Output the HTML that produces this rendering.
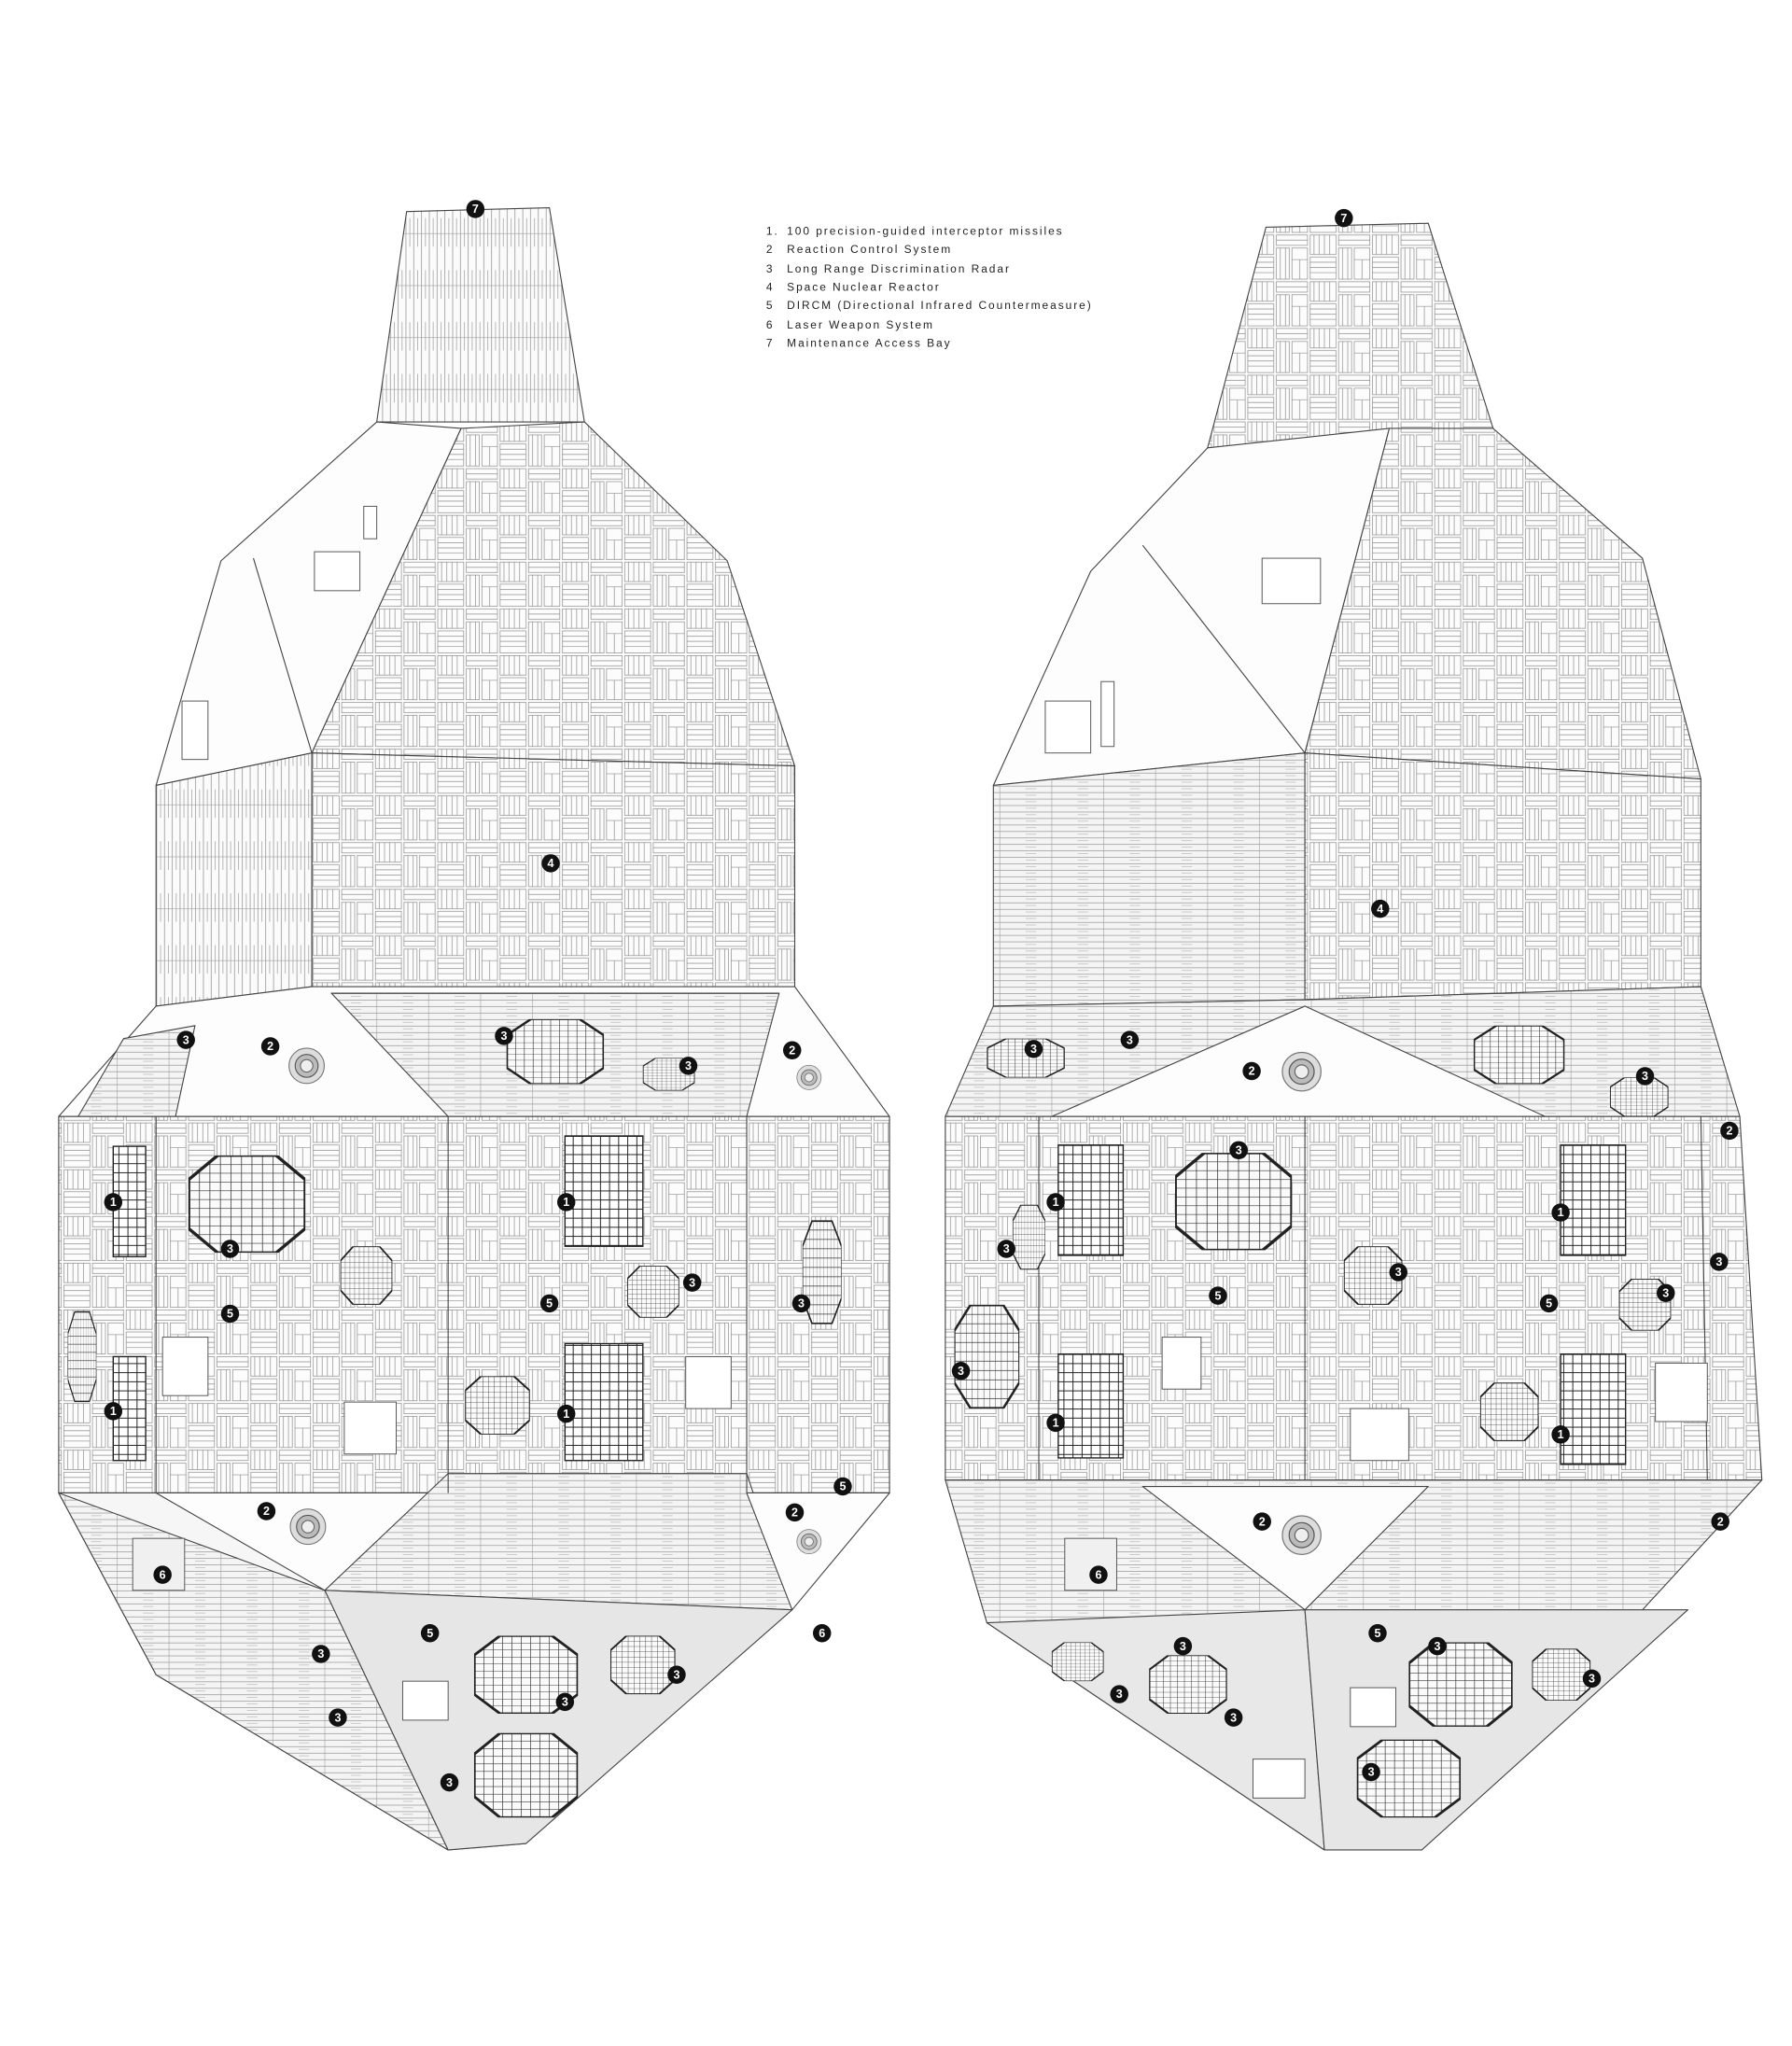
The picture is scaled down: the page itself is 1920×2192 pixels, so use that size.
<!DOCTYPE html>
<html><head><meta charset="utf-8"><style>
html,body{margin:0;padding:0;background:#fff;}
svg{display:block;}
.lg{font-family:"Liberation Sans",Arial,sans-serif;font-size:8.6px;letter-spacing:1.4px;fill:#222;}
.m{font-family:"Liberation Sans",Arial,sans-serif;font-size:9px;font-weight:bold;fill:#fff;text-anchor:middle;}
</style></head><body>
<svg width="1920" height="2192" viewBox="0 0 1380 1576" xmlns="http://www.w3.org/2000/svg">
<defs>
<pattern id="v" width="6" height="40" patternUnits="userSpaceOnUse">
<rect width="6" height="40" fill="#fbfbfb"/><line x1="0.5" y1="0" x2="0.5" y2="40" stroke="#8a8a8a" stroke-width="0.5"/><line x1="3.5" y1="8" x2="3.5" y2="30" stroke="#9a9a9a" stroke-width="0.5"/><line x1="0" y1="20" x2="6" y2="20" stroke="#999" stroke-width="0.4"/>
</pattern>
<pattern id="h" width="40" height="5" patternUnits="userSpaceOnUse">
<rect width="40" height="5" fill="#f4f4f4"/><line x1="0" y1="0.5" x2="40" y2="0.5" stroke="#888" stroke-width="0.5"/><line x1="10" y1="0" x2="10" y2="5" stroke="#999" stroke-width="0.4"/><line x1="30" y1="2.5" x2="38" y2="2.5" stroke="#aaa" stroke-width="0.4"/>
</pattern>
<pattern id="p" width="48" height="36" patternUnits="userSpaceOnUse">
<rect width="48" height="36" fill="#fcfcfc"/>
<g stroke="#8c8c8c" stroke-width="0.5" fill="none">
<rect x="1" y="1" width="20" height="15"/><line x1="4" y1="1" x2="4" y2="16"/><line x1="8" y1="1" x2="8" y2="16"/><line x1="12" y1="1" x2="12" y2="16"/><line x1="16" y1="1" x2="16" y2="16"/>
<rect x="23" y="1" width="24" height="8"/><line x1="23" y1="5" x2="47" y2="5"/>
<rect x="23" y="11" width="10" height="24"/><line x1="26" y1="11" x2="26" y2="35"/><line x1="30" y1="11" x2="30" y2="35"/>
<rect x="1" y="18" width="20" height="17"/><line x1="1" y1="22" x2="21" y2="22"/><line x1="1" y1="26" x2="21" y2="26"/><line x1="1" y1="30" x2="21" y2="30"/>
<rect x="35" y="11" width="12" height="24"/><line x1="35" y1="20" x2="47" y2="20"/><line x1="41" y1="20" x2="41" y2="35"/>
</g></pattern>
<pattern id="g" width="7" height="7" patternUnits="userSpaceOnUse">
<rect width="7" height="7" fill="#fff"/><path d="M0 0H7M0 0V7" stroke="#222" stroke-width="1.4"/>
</pattern>
<pattern id="g2" width="9" height="9" patternUnits="userSpaceOnUse">
<rect width="9" height="9" fill="#fafafa"/><path d="M0 0H9M0 0V9" stroke="#333" stroke-width="1.2"/>
</pattern>
<symbol id="oct" viewBox="0 0 100 100" preserveAspectRatio="none">
<polygon points="25,0 75,0 100,25 100,75 75,100 25,100 0,75 0,25" fill="url(#g2)" stroke="#222" stroke-width="3"/>
</symbol>
<symbol id="rc" viewBox="0 0 40 40"><circle cx="20" cy="20" r="17" fill="#ddd" stroke="#777"/><circle cx="20" cy="20" r="11" fill="#bbb" stroke="#555"/><circle cx="20" cy="20" r="6" fill="#eee" stroke="#666"/></symbol>
</defs>

<g class="lg">
<text x="590" y="181">1.</text><text x="606" y="181">100 precision-guided interceptor missiles</text>
<text x="590" y="195">2</text><text x="606" y="195">Reaction Control System</text>
<text x="590" y="210">3</text><text x="606" y="210">Long Range Discrimination Radar</text>
<text x="590" y="224">4</text><text x="606" y="224">Space Nuclear Reactor</text>
<text x="590" y="238">5</text><text x="606" y="238">DIRCM (Directional Infrared Countermeasure)</text>
<text x="590" y="253">6</text><text x="606" y="253">Laser Weapon System</text>
<text x="590" y="267">7</text><text x="606" y="267">Maintenance Access Bay</text>
</g>

<!-- LEFT SHIP -->
<g stroke="#444" stroke-width="0.8" stroke-linejoin="round">
<polygon points="313,163 423,160 450,325 290,325" fill="url(#v)"/>
<polygon points="290,325 355,330 240,580 120,605 170,432" fill="#fdfdfd"/>
<line x1="195" y1="430" x2="240" y2="580"/>
<polygon points="355,330 450,325 560,432 612,590 240,580" fill="url(#p)"/>
<polygon points="120,605 240,580 240,760 120,775" fill="url(#v)"/>
<polygon points="240,580 612,590 612,760 240,760" fill="url(#p)"/>
<polygon points="120,775 240,760 612,760 685,860 45,860" fill="#fdfdfd"/>
<polygon points="255,765 600,765 575,860 345,860" fill="url(#h)"/>
<polygon points="95,800 150,790 135,860 60,860" fill="url(#h)"/>
<polygon points="45,860 685,860 685,1150 45,1150" fill="url(#p)"/>
<polygon points="45,1150 685,1150 405,1420 345,1425 120,1290" fill="#f6f6f6"/>
<polygon points="45,1150 250,1225 345,1425 120,1290" fill="url(#h)"/>
<polygon points="120,1150 345,1150 250,1225" fill="#fdfdfd"/>
<polygon points="345,1135 575,1135 610,1240 250,1225" fill="url(#h)"/>
<polygon points="575,1150 685,1150 610,1240" fill="#fdfdfd"/>
<polygon points="250,1225 610,1240 405,1420 345,1425" fill="#e6e6e6"/>
</g>
<g stroke="#444" stroke-width="0.8">
<line x1="120" y1="860" x2="120" y2="1150"/><line x1="345" y1="860" x2="345" y2="1150"/><line x1="575" y1="860" x2="575" y2="1150"/>
<line x1="240" y1="580" x2="240" y2="760"/>
</g>
<g fill="#fff" stroke="#555" stroke-width="0.7">
<rect x="242" y="425" width="35" height="30"/><rect x="140" y="540" width="20" height="45"/><rect x="280" y="390" width="10" height="25"/>
<rect x="125" y="1030" width="35" height="45"/><rect x="265" y="1080" width="40" height="40"/><rect x="528" y="1045" width="35" height="40"/>
<rect x="310" y="1295" width="35" height="30"/><rect x="102" y="1185" width="40" height="40" fill="#f0f0f0"/>
</g>
<rect x="87" y="883" width="25" height="85" fill="url(#g)" stroke="#222"/>
<rect x="435" y="875" width="60" height="85" fill="url(#g)" stroke="#222"/>
<rect x="435" y="1035" width="60" height="90" fill="url(#g)" stroke="#222"/>
<rect x="87" y="1045" width="25" height="80" fill="url(#g)" stroke="#222"/>
<use href="#oct" x="145" y="890" width="90" height="75"/>
<use href="#oct" x="262" y="960" width="40" height="45"/>
<use href="#oct" x="483" y="975" width="40" height="40"/>
<use href="#oct" x="358" y="1060" width="50" height="45"/>
<use href="#oct" x="390" y="785" width="75" height="50"/>
<use href="#oct" x="495" y="815" width="40" height="25"/>
<use href="#oct" x="365" y="1260" width="80" height="60"/>
<use href="#oct" x="470" y="1260" width="50" height="45"/>
<use href="#oct" x="365" y="1335" width="80" height="65"/>
<use href="#oct" x="618" y="940" width="30" height="80"/>
<use href="#oct" x="52" y="1010" width="22" height="70"/>
<use href="#rc" x="220" y="805" width="32" height="32"/>
<use href="#rc" x="221" y="1160" width="32" height="32"/>
<use href="#rc" x="612" y="815" width="22" height="30"/>
<use href="#rc" x="612" y="1170" width="22" height="35"/>

<!-- RIGHT SHIP -->
<g stroke="#444" stroke-width="0.8" stroke-linejoin="round">
<polygon points="975,175 1100,172 1150,330 930,345" fill="url(#p)"/>
<polygon points="930,345 1070,330 1005,580 765,605 840,440" fill="#fdfdfd"/>
<line x1="880" y1="420" x2="1005" y2="580"/>
<polygon points="1070,330 1150,330 1265,430 1310,600 1005,580" fill="url(#p)"/>
<polygon points="765,605 1005,580 1005,770 765,775" fill="url(#h)"/>
<polygon points="1005,580 1310,600 1310,760 1005,770" fill="url(#p)"/>
<polygon points="765,775 1005,770 1310,760 1340,860 728,860" fill="url(#h)"/>
<polygon points="1005,775 810,860 1190,860" fill="#fdfdfd"/>
<polygon points="728,860 1340,860 1357,1140 728,1140" fill="url(#p)"/>
<polygon points="728,1140 1357,1140 1095,1425 1020,1425 760,1250" fill="url(#h)"/>
<polygon points="880,1145 1100,1145 1005,1240" fill="#fdfdfd"/>
<polygon points="760,1250 1005,1240 1020,1425" fill="#e8e8e8"/>
<polygon points="1005,1240 1300,1240 1095,1425 1020,1425" fill="#e6e6e6"/>
</g>
<g stroke="#444" stroke-width="0.8">
<line x1="800" y1="860" x2="800" y2="1140"/><line x1="1005" y1="860" x2="1005" y2="1140"/><line x1="1310" y1="860" x2="1315" y2="1140"/>
</g>
<g fill="#fff" stroke="#555" stroke-width="0.7">
<rect x="972" y="430" width="45" height="35"/><rect x="805" y="540" width="35" height="40"/><rect x="848" y="525" width="10" height="50"/>
<rect x="895" y="1030" width="30" height="40"/><rect x="1040" y="1085" width="45" height="40"/><rect x="1275" y="1050" width="40" height="45"/>
<rect x="1040" y="1300" width="35" height="30"/><rect x="820" y="1185" width="40" height="40" fill="#f0f0f0"/><rect x="965" y="1355" width="40" height="30"/>
</g>
<rect x="815" y="882" width="50" height="85" fill="url(#g)" stroke="#222"/>
<rect x="1202" y="882" width="50" height="85" fill="url(#g)" stroke="#222"/>
<rect x="815" y="1043" width="50" height="80" fill="url(#g)" stroke="#222"/>
<rect x="1202" y="1043" width="50" height="85" fill="url(#g)" stroke="#222"/>
<use href="#oct" x="905" y="888" width="90" height="75"/>
<use href="#oct" x="1035" y="960" width="45" height="45"/>
<use href="#oct" x="1247" y="985" width="40" height="40"/>
<use href="#oct" x="1140" y="1065" width="45" height="45"/>
<use href="#oct" x="735" y="1005" width="50" height="80"/>
<use href="#oct" x="780" y="928" width="25" height="50"/>
<use href="#oct" x="1135" y="790" width="70" height="45"/>
<use href="#oct" x="1240" y="830" width="45" height="30"/>
<use href="#oct" x="760" y="800" width="60" height="30"/>
<use href="#oct" x="1085" y="1265" width="80" height="65"/>
<use href="#oct" x="1045" y="1340" width="80" height="60"/>
<use href="#oct" x="1180" y="1270" width="45" height="40"/>
<use href="#oct" x="885" y="1275" width="60" height="45"/>
<use href="#oct" x="810" y="1265" width="40" height="30"/>
<use href="#rc" x="985" y="808" width="35" height="35"/>
<use href="#rc" x="985" y="1165" width="35" height="35"/>

<g fill="#111">
<circle cx="366" cy="161" r="7"/><circle cx="424" cy="665" r="7"/><circle cx="143" cy="801" r="7"/><circle cx="208" cy="806" r="7"/><circle cx="388" cy="798" r="7"/><circle cx="530" cy="821" r="7"/><circle cx="610" cy="809" r="7"/><circle cx="87" cy="926" r="7"/><circle cx="436" cy="926" r="7"/><circle cx="177" cy="962" r="7"/><circle cx="177" cy="1012" r="7"/><circle cx="423" cy="1004" r="7"/><circle cx="533" cy="988" r="7"/><circle cx="617" cy="1004" r="7"/><circle cx="87" cy="1087" r="7"/><circle cx="436" cy="1089" r="7"/><circle cx="649" cy="1145" r="7"/><circle cx="205" cy="1164" r="7"/><circle cx="612" cy="1165" r="7"/><circle cx="125" cy="1213" r="7"/><circle cx="633" cy="1258" r="7"/><circle cx="331" cy="1258" r="7"/><circle cx="247" cy="1274" r="7"/><circle cx="435" cy="1311" r="7"/><circle cx="521" cy="1290" r="7"/><circle cx="260" cy="1323" r="7"/><circle cx="346" cy="1373" r="7"/>
<circle cx="1035" cy="168" r="7"/><circle cx="1063" cy="700" r="7"/><circle cx="796" cy="808" r="7"/><circle cx="870" cy="801" r="7"/><circle cx="964" cy="825" r="7"/><circle cx="1267" cy="829" r="7"/><circle cx="1332" cy="871" r="7"/><circle cx="954" cy="886" r="7"/><circle cx="813" cy="926" r="7"/><circle cx="1202" cy="934" r="7"/><circle cx="775" cy="962" r="7"/><circle cx="1077" cy="980" r="7"/><circle cx="1324" cy="972" r="7"/><circle cx="938" cy="998" r="7"/><circle cx="1193" cy="1004" r="7"/><circle cx="1283" cy="996" r="7"/><circle cx="740" cy="1056" r="7"/><circle cx="813" cy="1096" r="7"/><circle cx="1202" cy="1105" r="7"/><circle cx="972" cy="1172" r="7"/><circle cx="1325" cy="1172" r="7"/><circle cx="846" cy="1213" r="7"/><circle cx="1061" cy="1258" r="7"/><circle cx="911" cy="1268" r="7"/><circle cx="1107" cy="1268" r="7"/><circle cx="862" cy="1305" r="7"/><circle cx="1226" cy="1293" r="7"/><circle cx="950" cy="1323" r="7"/><circle cx="1056" cy="1365" r="7"/>
</g>
<g class="m">
<text x="366" y="164">7</text><text x="424" y="668">4</text><text x="143" y="804">3</text><text x="208" y="809">2</text><text x="388" y="801">3</text><text x="530" y="824">3</text><text x="610" y="812">2</text><text x="87" y="929">1</text><text x="436" y="929">1</text><text x="177" y="965">3</text><text x="177" y="1015">5</text><text x="423" y="1007">5</text><text x="533" y="991">3</text><text x="617" y="1007">3</text><text x="87" y="1090">1</text><text x="436" y="1092">1</text><text x="649" y="1148">5</text><text x="205" y="1167">2</text><text x="612" y="1168">2</text><text x="125" y="1216">6</text><text x="633" y="1261">6</text><text x="331" y="1261">5</text><text x="247" y="1277">3</text><text x="435" y="1314">3</text><text x="521" y="1293">3</text><text x="260" y="1326">3</text><text x="346" y="1376">3</text>
<text x="1035" y="171">7</text><text x="1063" y="703">4</text><text x="796" y="811">3</text><text x="870" y="804">3</text><text x="964" y="828">2</text><text x="1267" y="832">3</text><text x="1332" y="874">2</text><text x="954" y="889">3</text><text x="813" y="929">1</text><text x="1202" y="937">1</text><text x="775" y="965">3</text><text x="1077" y="983">3</text><text x="1324" y="975">3</text><text x="938" y="1001">5</text><text x="1193" y="1007">5</text><text x="1283" y="999">3</text><text x="740" y="1059">3</text><text x="813" y="1099">1</text><text x="1202" y="1108">1</text><text x="972" y="1175">2</text><text x="1325" y="1175">2</text><text x="846" y="1216">6</text><text x="1061" y="1261">5</text><text x="911" y="1271">3</text><text x="1107" y="1271">3</text><text x="862" y="1308">3</text><text x="1226" y="1296">3</text><text x="950" y="1326">3</text><text x="1056" y="1368">3</text>
</g>
</svg>
</body></html>
